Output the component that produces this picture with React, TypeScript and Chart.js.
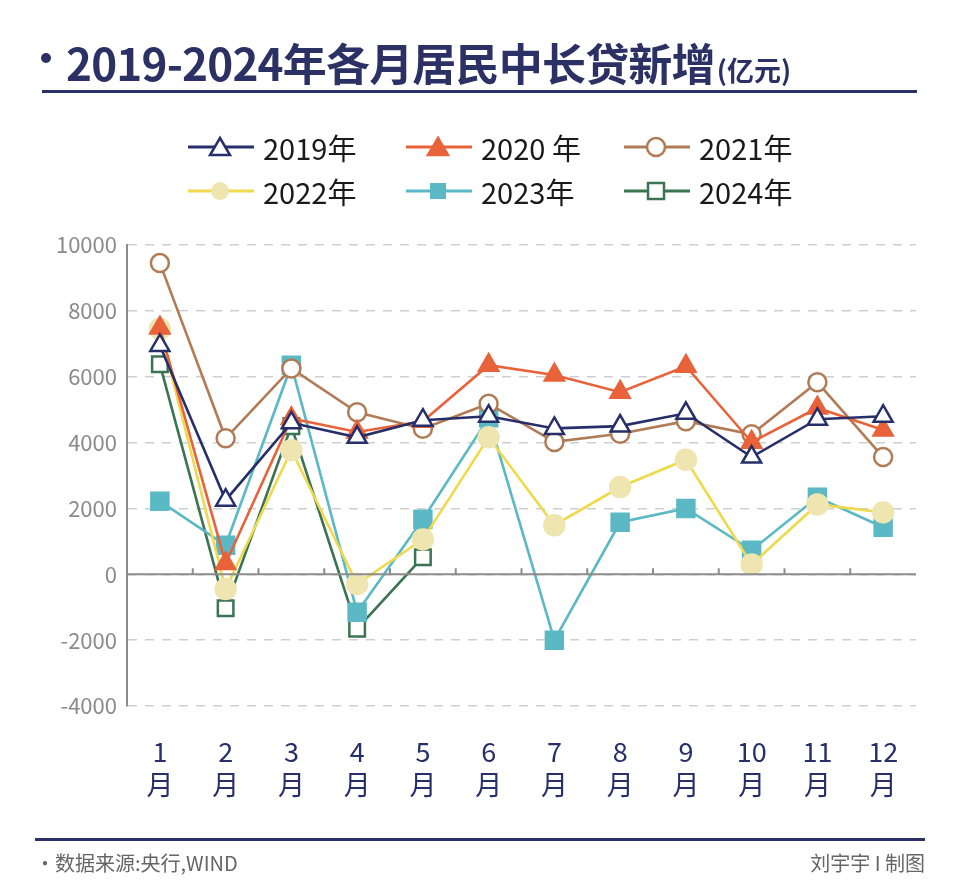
import React, { useEffect, useRef } from "react";
import { Chart, registerables } from "chart.js";

Chart.register(...registerables);

const months = ["1", "2", "3", "4", "5", "6", "7", "8", "9", "10", "11", "12"];
const yTicks = [10000, 8000, 6000, 4000, 2000, 0, -2000, -4000];

const y2019 = [6950, 2250, 4600, 4160, 4680, 4800, 4430, 4500, 4890, 3560, 4710, 4800];
const y2020 = [7480, 330, 4730, 4320, 4650, 6350, 6050, 5530, 6320, 4010, 5050, 4380];
const y2021 = [9450, 4130, 6250, 4920, 4420, 5180, 4020, 4270, 4650, 4250, 5830, 3560];
const y2022 = [7450, -450, 3770, -300, 1060, 4160, 1490, 2650, 3480, 300, 2120, 1880];
const y2023 = [2220, 880, 6350, -1150, 1670, 4750, -2000, 1580, 2000, 730, 2340, 1430];
const y2024 = [6380, -1030, 4500, -1650, 520, null, null, null, null, null, null, null];

const NAVY = "#272f6a";
const ORANGE = "#e8623a";
const BROWN = "#b07b55";
const YLINE = "#efd94c";
const YFILL = "#eee5b0";
const TEAL = "#5bb8c5";
const GREEN = "#3b7452";

const FONT = "'Noto Sans CJK SC', 'Noto Sans', sans-serif";

const zeroLinePlugin = {
  id: "zeroLine",
  afterDatasetsDraw(chart: any) {
    const { ctx, chartArea, scales } = chart;
    const y = scales.y.getPixelForValue(0);
    const x = scales.x;
    ctx.save();
    ctx.strokeStyle = "#8c8c8c";
    ctx.lineWidth = 2;
    ctx.beginPath();
    ctx.moveTo(chartArea.left, y);
    ctx.lineTo(chartArea.right, y);
    for (let i = 1; i < months.length; i++) {
      const bx = (x.getPixelForTick(i - 1) + x.getPixelForTick(i)) / 2;
      ctx.moveTo(bx, y);
      ctx.lineTo(bx, y - 6);
    }
    ctx.stroke();
    ctx.restore();
  },
};

function LegendItem({ label, color, fill, shape }: any) {
  let marker: any = null;
  if (shape === "triangle") {
    marker = <polygon points="32,4 42,21 22,21" fill={fill} stroke={color} strokeWidth={2.5} />;
  } else if (shape === "circle") {
    marker = <circle cx={32} cy={13} r={9} fill={fill} stroke={fill === "#fff" ? color : "none"} strokeWidth={2.5} />;
  } else {
    marker = <rect x={24} y={5} width={16} height={16} fill={fill} stroke={fill === "#fff" ? color : "none"} strokeWidth={2.5} />;
  }
  return (
    <div style={{ display: "flex", alignItems: "center", width: 218 }}>
      <svg width={66} height={26} style={{ marginRight: 9 }}>
        <line x1={0} y1={13} x2={66} y2={13} stroke={color} strokeWidth={3} />
        {marker}
      </svg>
      <span style={{ fontSize: 29, color: "#1a1a1a", fontFamily: FONT, lineHeight: "30px" }}>{label}</span>
    </div>
  );
}

export default function App() {
  const ref = useRef<HTMLCanvasElement>(null);

  useEffect(() => {
    const mk = (label: string, data: any[], line: string, bg: string, border: string, style: string, r: number) => ({
      label,
      data,
      borderColor: line,
      borderWidth: 2.6,
      pointStyle: style,
      pointRadius: r,
      pointBackgroundColor: bg,
      pointBorderColor: border,
      pointBorderWidth: 2.5,
      spanGaps: false,
      tension: 0,
    });
    const chart = new Chart(ref.current!, {
      type: "line",
      data: {
        labels: months.map((m) => [m, "月"]),
        datasets: [
          mk("2019年", y2019, NAVY, "#fff", NAVY, "triangle", 11),
          mk("2020 年", y2020, ORANGE, ORANGE, ORANGE, "triangle", 11),
          mk("2021年", y2021, BROWN, "#fff", BROWN, "circle", 9),
          mk("2022年", y2022, YLINE, YFILL, YFILL, "circle", 10),
          mk("2023年", y2023, TEAL, TEAL, TEAL, "rect", 12),
          mk("2024年", y2024, GREEN, "#fff", GREEN, "rect", 11),
        ] as any,
      },
      options: {
        responsive: false,
        animation: false,
        layout: { padding: { top: 245, right: 44, left: 0, bottom: 0 } },
        plugins: { legend: { display: false }, tooltip: { enabled: false } },
        scales: {
          x: {
            offset: true,
            grid: { display: false },
            border: { display: false },
            ticks: {
              color: NAVY,
              font: { family: FONT, size: 27, lineHeight: 1.2 },
              padding: 22,
              maxRotation: 0,
            },
            afterFit: (s: any) => {
              s.height = 189;
            },
          },
          y: {
            min: -4000,
            max: 10000,
            afterBuildTicks: (s: any) => {
              s.ticks = yTicks.map((v) => ({ value: v }));
            },
            grid: { color: "#cfcfcf", lineWidth: 1.5, drawTicks: false },
            border: { display: true, color: "#8c8c8c", width: 2, dash: [9, 8] },
            ticks: {
              color: "#8a8a8a",
              font: { family: FONT, size: 22 },
              padding: 10,
              callback: (v: any) => String(v),
            },
            afterFit: (s: any) => {
              s.width = 127;
            },
          },
        },
      },
      plugins: [zeroLinePlugin],
    });
    return () => chart.destroy();
  }, []);

  return (
    <div style={{ position: "relative", width: 960, height: 895, background: "#fff", fontFamily: FONT }}>
      <style>{"body{margin:0;}"}</style>
      <canvas ref={ref} width={960} height={895} style={{ position: "absolute", left: 0, top: 0 }} />
      <div style={{ position: "absolute", left: 41, top: 53, width: 10, height: 10, borderRadius: 5, background: "#2b3164" }} />
      <div style={{ position: "absolute", left: 66, top: 30, display: "flex", alignItems: "baseline", color: "#2b3164" }}>
        <span style={{ fontSize: 44, fontWeight: 700, letterSpacing: -0.8 }}>2019-2024年各月居民中长贷新增</span>
        <span style={{ fontSize: 27, fontWeight: 700, marginLeft: 2 }}>(亿元)</span>
      </div>
      <div style={{ position: "absolute", left: 42, top: 90, width: 875, height: 3, background: "#2b3164" }} />
      <div style={{ position: "absolute", left: 188, top: 132, display: "flex", flexWrap: "wrap", width: 660, rowGap: 14 }}>
        <LegendItem label="2019年" color={NAVY} fill="#fff" shape="triangle" />
        <LegendItem label="2020 年" color={ORANGE} fill={ORANGE} shape="triangle" />
        <LegendItem label="2021年" color={BROWN} fill="#fff" shape="circle" />
        <LegendItem label="2022年" color={YLINE} fill={YFILL} shape="circle" />
        <LegendItem label="2023年" color={TEAL} fill={TEAL} shape="rect" />
        <LegendItem label="2024年" color={GREEN} fill="#fff" shape="rect" />
      </div>
      <div style={{ position: "absolute", left: 35, top: 838, width: 890, height: 3, background: "#2b3164" }} />
      <div style={{ position: "absolute", left: 35, top: 848, fontSize: 20, color: "#666" }}>·数据来源:央行,WIND</div>
      <div style={{ position: "absolute", right: 35, top: 848, fontSize: 20, color: "#666" }}>刘宇宇 I 制图</div>
    </div>
  );
}
